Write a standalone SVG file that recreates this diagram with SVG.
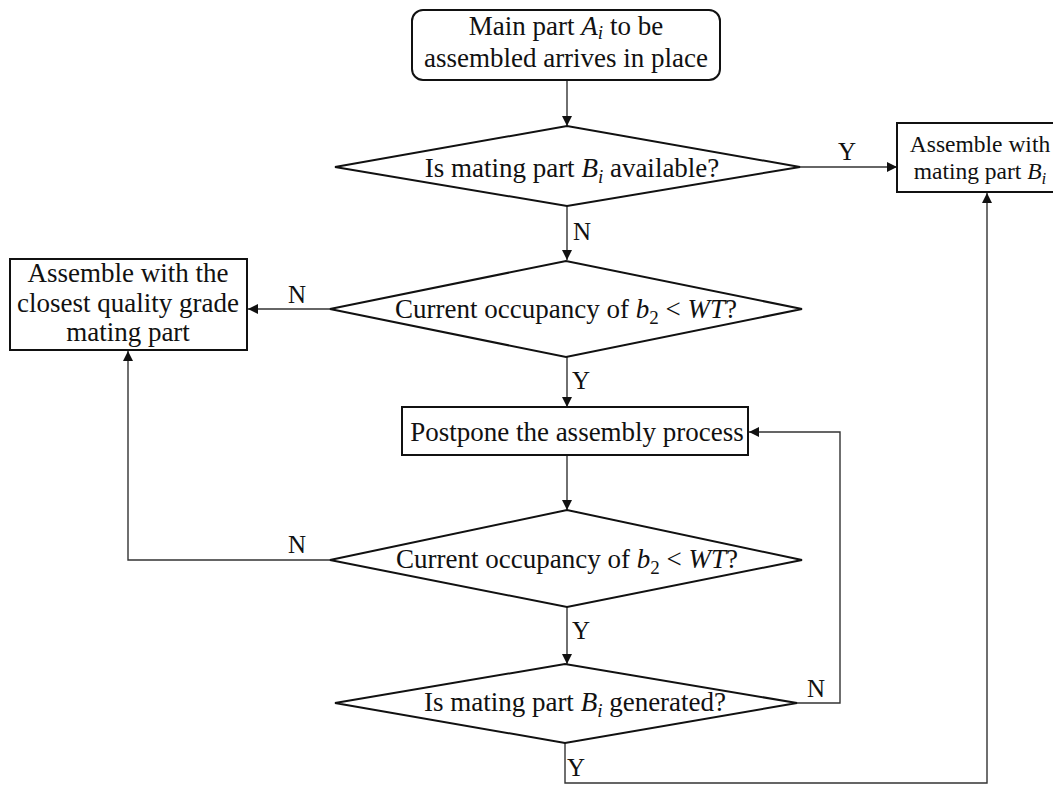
<svg xmlns="http://www.w3.org/2000/svg" width="1053" height="785" viewBox="0 0 1053 785">
<style>
text{font-family:"Liberation Serif","Times New Roman",serif;font-size:27px;fill:#111;text-anchor:middle}
.shape{fill:#fff;stroke:#111;stroke-width:2}
.conn{fill:none;stroke:#333;stroke-width:1.4}
.lbl{text-anchor:start;font-size:25px}
.small{font-size:23.5px}
.it{font-style:italic}
.sub{font-size:19px;font-style:italic}
.subs{font-size:17px;font-style:italic}
.sub2{font-size:19px}
</style>
<defs>
<marker id="arr" viewBox="0 0 10 10" refX="10" refY="5" markerWidth="10" markerHeight="10" markerUnits="userSpaceOnUse" orient="auto">
<path d="M0,0 L10,5 L0,10 z" fill="#111"/>
</marker>
</defs>
<rect width="1053" height="785" fill="#fff"/>
<g id="connectors">
<path class="conn" d="M567,80 V126" marker-end="url(#arr)"/>
<path class="conn" d="M800,167 H897" marker-end="url(#arr)"/>
<path class="conn" d="M567,206 V260" marker-end="url(#arr)"/>
<path class="conn" d="M330,309 H248" marker-end="url(#arr)"/>
<path class="conn" d="M567,357 V407" marker-end="url(#arr)"/>
<path class="conn" d="M567,455 V510" marker-end="url(#arr)"/>
<path class="conn" d="M330,560 H128 V351" marker-end="url(#arr)"/>
<path class="conn" d="M567,607 V664" marker-end="url(#arr)"/>
<path class="conn" d="M797,703 H840 V432 H749" marker-end="url(#arr)"/>
<path class="conn" d="M565,743 V783 H987 V193" marker-end="url(#arr)"/>
<text class="lbl" x="838" y="160">Y</text>
<text class="lbl" x="573" y="240">N</text>
<text class="lbl" x="288" y="303">N</text>
<text class="lbl" x="572" y="389">Y</text>
<text class="lbl" x="288" y="553">N</text>
<text class="lbl" x="572" y="639">Y</text>
<text class="lbl" x="807" y="697">N</text>
<text class="lbl" x="567" y="776">Y</text>
</g>
<g id="start">
<rect class="shape" x="412" y="10" width="308" height="70" rx="11"/>
<text x="566" y="35">Main part <tspan class="it">A</tspan><tspan class="sub" dy="4">i</tspan><tspan dy="-4"> to be</tspan></text>
<text x="566" y="67">assembled arrives in place</text>
</g>
<g id="d1">
<polygon class="shape" points="335,167 567,126 800,167 567,206"/>
<text x="572" y="177">Is mating part <tspan class="it">B</tspan><tspan class="sub" dy="6">i</tspan><tspan dy="-6"> available?</tspan></text>
</g>
<g id="assembleB">
<rect class="shape" x="897" y="123" width="158" height="69"/>
<text class="small" x="980" y="152">Assemble with</text>
<text class="small" x="980" y="179">mating part <tspan class="it">B</tspan><tspan class="subs" dy="5">i</tspan></text>
</g>
<g id="d2">
<polygon class="shape" points="330,309 566,261 802,309 566,357"/>
<text x="566" y="318">Current occupancy of <tspan class="it">b</tspan><tspan class="sub2" dy="6">2</tspan><tspan dy="-6"> &lt; </tspan><tspan class="it">WT</tspan>?</text>
</g>
<g id="closest">
<rect class="shape" x="10" y="259" width="237" height="91"/>
<text x="128" y="282">Assemble with the</text>
<text x="128" y="312">closest quality grade</text>
<text x="128" y="341">mating part</text>
</g>
<g id="postpone">
<rect class="shape" x="402" y="407" width="346" height="48"/>
<text x="577" y="441">Postpone the assembly process</text>
</g>
<g id="d3">
<polygon class="shape" points="330,560 567,510 802,560 567,607"/>
<text x="567" y="568">Current occupancy of <tspan class="it">b</tspan><tspan class="sub2" dy="6">2</tspan><tspan dy="-6"> &lt; </tspan><tspan class="it">WT</tspan>?</text>
</g>
<g id="d4">
<polygon class="shape" points="335,703 565,664 797,703 565,743"/>
<text x="575" y="711">Is mating part <tspan class="it">B</tspan><tspan class="sub" dy="6">i</tspan><tspan dy="-6"> generated?</tspan></text>
</g>
</svg>
